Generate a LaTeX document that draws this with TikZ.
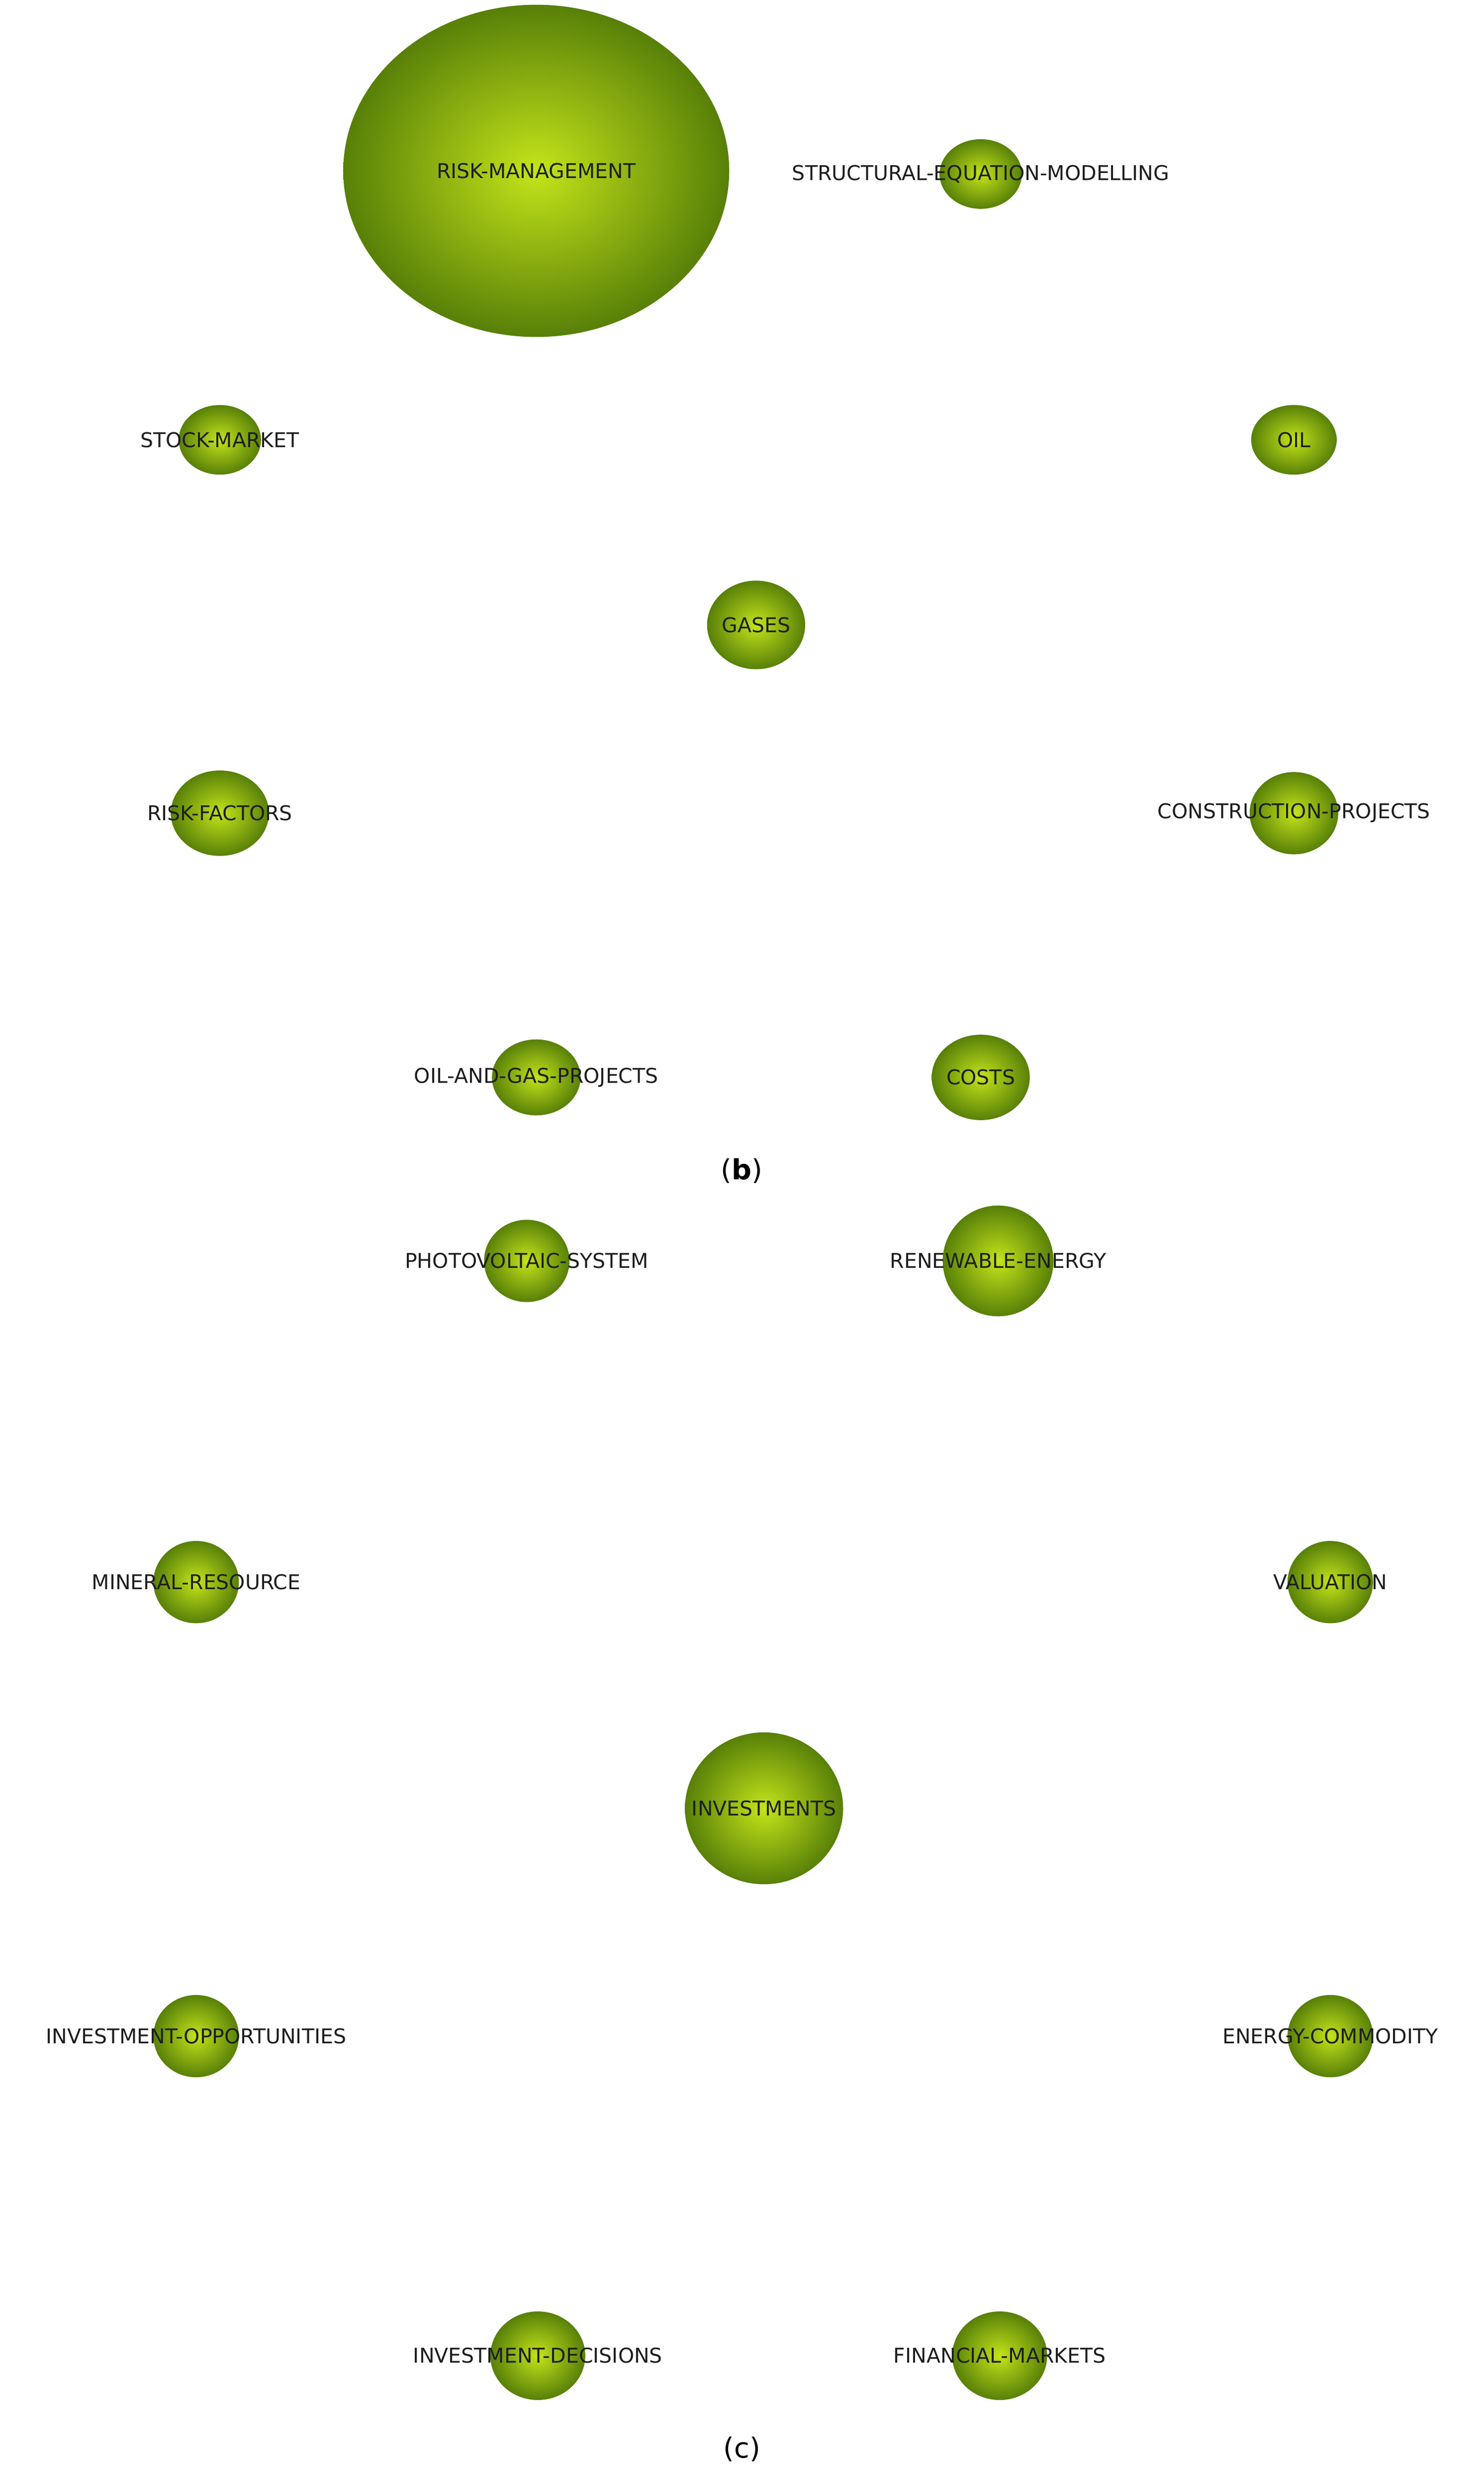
\documentclass[tikz,border=0pt]{standalone}
\usepackage{fontspec}
\setmainfont{DejaVu Sans}
\usetikzlibrary{shapes.geometric,backgrounds}
\begin{document}
\begin{tikzpicture}[x=0.03cm,y=-0.03cm,
  ball/.style args={#1/#2/#3}{ellipse,draw=none,inner sep=0pt,minimum width=#1*0.06cm,minimum height=#2*0.06cm,
    inner color={rgb,255:red,196;green,228;blue,26},outer color={rgb,255:red,88;green,128;blue,8},
    label={[font=\fontsize{11}{13}\selectfont,text={rgb,255:red,30;green,30;blue,30},inner sep=0pt]center:#3}},
  e/.style={draw={rgb,255:red,#1;green,#1;blue,#1},line width=0.6pt},
  subcap/.style={font=\fontsize{15}{18}\selectfont\rmfamily}]
\useasboundingbox[fill=white] (0,0) rectangle (938,1572);
% (b)
\node[ball=122/105/RISK-MANAGEMENT] (rm) at (339,108) {};
\node[ball=26/22/STRUCTURAL-EQUATION-MODELLING] (sem) at (620,110) {};
\node[ball=26/22/STOCK-MARKET] (sm) at (139,278) {};
\node[ball=27/22/OIL] (oil) at (818,278) {};
\node[ball=31/28/GASES] (gas) at (478,395) {};
\node[ball=31/27/RISK-FACTORS] (rf) at (139,514) {};
\node[ball=28/26/CONSTRUCTION-PROJECTS] (cp) at (818,514) {};
\node[ball=28/24/OIL-AND-GAS-PROJECTS] (og) at (339,681) {};
\node[ball=31/27/COSTS] (co) at (620,681) {};
\node[subcap] (lb) at (469,740) {(\textbf{b})};
\begin{scope}[on background layer]
\draw[e=215] (rm) -- (sem);
\draw[e=225] (rm) -- (oil);
\draw[e=210] (rm) -- (cp);
\draw[e=225] (rm) -- (sm);
\draw[e=120,line width=1pt] (rm) -- (gas);
\draw[e=195] (rm) -- (rf);
\draw[e=190] (rm) -- (og);
\draw[e=60,line width=2pt] (sem) -- (gas);
\draw[e=60,line width=2pt] (gas) -- (og);
\draw[e=130,line width=2.4pt] (sem) -- (cp);
\draw[e=170] (sm) -- (gas);
\draw[e=170] (sm) -- (co);
\draw[e=140] (oil) -- (gas);
\draw[e=180] (gas) -- (rf);
\draw[e=110,line width=1.2pt] (gas) -- (cp);
\draw[e=130] (gas) -- (co);
\draw[e=130] (rf) -- (cp);
\draw[e=175] (og) -- (cp);
\end{scope}
% (c)
\node[ball=27/26/PHOTOVOLTAIC-SYSTEM] (pv) at (333,797) {};
\node[ball=35/35/RENEWABLE-ENERGY] (re) at (631,797) {};
\node[ball=27/26/MINERAL-RESOURCE] (mr) at (124,1000) {};
\node[ball=27/26/VALUATION] (va) at (841,1000) {};
\node[ball=50/48/INVESTMENTS] (inv) at (483,1143) {};
\node[ball=27/26/INVESTMENT-OPPORTUNITIES] (io) at (124,1287) {};
\node[ball=27/26/ENERGY-COMMODITY] (ec) at (841,1287) {};
\node[ball=30/28/INVESTMENT-DECISIONS] (id) at (340,1489) {};
\node[ball=30/28/FINANCIAL-MARKETS] (fm) at (632,1489) {};
\node[subcap] (lc) at (469,1548) {(c)};
\begin{scope}[on background layer]
\foreach \n/\g in {pv/195,re/185,mr/195,va/175,io/195,ec/185,id/190,fm/175}
  \draw[e=\g] (inv) -- (\n);
\end{scope}
\end{tikzpicture}
\end{document}
